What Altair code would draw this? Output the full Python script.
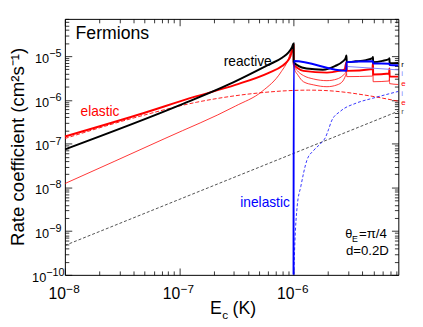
import altair as alt
import pandas as pd

# ---------------- values ----------------
# collision energy E_c (K) vs rate coefficient (cm^2 s^-1)

# reactive (thick black)
reactive_E = [1e-8, 1e-7, 3e-7, 6e-7, 8e-7, 9e-7, 9.7e-7, 1.0e-6,
              1.003e-6, 1.1e-6, 1.3e-6, 1.8e-6, 2.3e-6, 2.7e-6, 2.85e-6, 2.9e-6,
              2.92e-6, 3.5e-6, 4.3e-6, 4.9e-6, 4.95e-6,
              4.97e-6, 6.0e-6, 6.85e-6, 6.9e-6,
              6.92e-6, 8.25e-6]
reactive_k = [7.4e-8, 7.5e-7, 2.55e-6, 6.3e-6, 9.3e-6, 1.2e-5, 1.6e-5, 1.95e-5,
              7.3e-6, 6.0e-6, 5.2e-6, 4.9e-6, 5.9e-6, 7.6e-6, 8.9e-6, 1.03e-5,
              7.3e-6, 7.6e-6, 8.1e-6, 9.0e-6, 9.5e-6,
              7.3e-6, 7.8e-6, 8.6e-6, 9.0e-6,
              6.9e-6, 7.0e-6]

# elastic (thick red)
elastic_E = [1e-8, 4.3e-8, 1.4e-7, 3.1e-7, 6e-7, 8e-7, 8.7e-7, 9.4e-7, 9.8e-7, 1.0e-6,
             1.003e-6, 1.1e-6, 1.22e-6, 1.96e-6, 2.5e-6, 2.8e-6, 2.9e-6,
             2.92e-6, 4.9e-6, 4.95e-6,
             4.97e-6, 6.85e-6, 6.9e-6,
             6.92e-6, 8.25e-6]
elastic_k = [1.45e-7, 4.5e-7, 1.2e-6, 2.2e-6, 4.1e-6, 6.0e-6, 7.3e-6, 1.0e-5, 1.5e-5, 1.8e-5,
             6.6e-6, 5.2e-6, 4.6e-6, 4.2e-6, 4.6e-6, 5.0e-6, 7.3e-6,
             4.6e-6, 5.1e-6, 7.0e-6,
             3.8e-6, 4.0e-6, 5.2e-6,
             3.4e-6, 3.4e-6]

# elastic, partial contributions (thin red)
elastic_a_E = [1e-8, 7.5e-8, 3.1e-7, 5.3e-7, 7.8e-7, 9.0e-7, 9.6e-7, 1.0e-6,
               1.003e-6, 1.1e-6, 1.22e-6, 1.5e-6, 1.96e-6, 2.4e-6, 2.7e-6, 2.9e-6]
elastic_a_k = [1.22e-8, 1.31e-7, 7.2e-7, 1.56e-6, 4.4e-6, 8.5e-6, 1.44e-5, 1.7e-5,
               5.7e-6, 3.6e-6, 2.6e-6, 2.2e-6, 2.0e-6, 2.2e-6, 2.7e-6, 4.0e-6]

elastic_b_E = [1.0e-6, 1.003e-6, 1.1e-6, 1.22e-6, 1.5e-6, 1.96e-6, 2.4e-6, 2.7e-6, 2.85e-6, 2.9e-6,
               2.92e-6, 4.9e-6, 4.95e-6,
               4.97e-6, 6.85e-6, 6.9e-6,
               6.92e-6, 8.25e-6]
elastic_b_k = [1.7e-5, 6.2e-6, 4.4e-6, 3.6e-6, 3.0e-6, 2.75e-6, 3.0e-6, 3.6e-6, 4.2e-6, 5.7e-6,
               3.4e-6, 3.5e-6, 4.8e-6,
               2.6e-6, 2.7e-6, 3.4e-6,
               2.35e-6, 2.25e-6]

# elastic (thin red dashed)
elastic_d_E = [1e-8, 4.3e-8, 1.41e-7, 4.6e-7, 9.8e-7, 1.35e-6, 1.85e-6, 4.95e-6, 8.25e-6]
elastic_d_k = [1.31e-7, 4.07e-7, 8.8e-7, 1.41e-6, 1.64e-6, 1.67e-6, 1.64e-6, 1.2e-6, 9.3e-7]

# inelastic (thick blue) and second channel (thin light blue)
inelastic_E = [1.0e-6, 1.003e-6, 2.9e-6, 2.905e-6, 4.9e-6, 4.95e-6, 4.97e-6, 6.9e-6, 6.92e-6, 8.25e-6]
inelastic_k = [1e-10, 7.7e-6, 4.6e-6, 7.3e-6, 7.6e-6, 7.6e-6, 6.8e-6, 6.7e-6, 6.3e-6, 6.2e-6]

inelastic2_E = [2.92e-6, 4.95e-6, 8.25e-6]
inelastic2_k = [5.8e-6, 5.3e-6, 4.85e-6]

# inelastic (thin blue dashed)
inelastic_d_E = [1.005e-6, 1.028e-6, 1.076e-6, 1.157e-6, 1.31e-6, 1.5e-6, 1.76e-6, 1.9e-6,
                 2.02e-6, 2.15e-6, 2.57e-6, 3.52e-6, 4.92e-6, 8.25e-6]
inelastic_d_k = [1e-10, 5.8e-10, 3.7e-9, 1.04e-8, 4.2e-8, 7.0e-8, 1.06e-7, 1.38e-7,
                 2.08e-7, 3.3e-7, 5.5e-7, 8.4e-7, 1.09e-6, 1.56e-6]

# reactive (thin black dashed)
reactive_d_E = [1e-8, 8.25e-6]
reactive_d_k = [4.7e-10, 5.5e-7]

# letters at the right end of the curves
end_labels = ['r', 'i', 'e', 'i', 'e', 'r']
end_label_k = [6.3e-6, 3.95e-6, 2.35e-6, 1.36e-6, 8.5e-7, 5.4e-7]

# axes
x_ticks = [1e-8, 1e-7, 1e-6]
x_exps = ['\u22128', '\u22127', '\u22126']
y_ticks = [1e-10, 1e-9, 1e-8, 1e-7, 1e-6, 1e-5]
y_exps = ['\u221210', '\u22129', '\u22128', '\u22127', '\u22126', '\u22125']
x_minor = [float(f"{m}e{e}") for e in (-8, -7, -6) for m in range(2, 10) if float(f"{m}e{e}") < 8.25e-6]
y_minor = [float(f"{m}e{e}") for e in range(-10, -4) for m in range(2, 10) if float(f"{m}e{e}") < 7.1e-5]

# ---------------- chart ----------------
FONT = 'Liberation Sans'
W, H = 340, 261
xs = alt.Scale(type='log', domain=[1e-8, 8.25e-6], nice=False)
ys = alt.Scale(type='log', domain=[1e-10, 7.1e-5], nice=False)
RED, BLUE, LBLUE = '#ff0000', '#0000ff', '#8080ff'


def tick_axis(orient, values, size):
    return alt.Axis(orient=orient, values=values, tickSize=size, offset=-size,
                    labels=False, domain=False, grid=False, title=None,
                    tickColor='black', tickWidth=0.8)


def curve(E, k, color, width, dash=None, xaxis=None, yaxis=None):
    df = pd.DataFrame({'E': E, 'k': k, 'i': list(range(len(E)))})
    props = dict(color=color, strokeWidth=width, clip=True, interpolate='monotone')
    if dash is not None:
        props['strokeDash'] = dash
    return alt.Chart(df).mark_line(**props).encode(
        x=alt.X('E:Q', scale=xs, axis=xaxis),
        y=alt.Y('k:Q', scale=ys, axis=yaxis),
        order=alt.Order('i:Q'))


def note(text, E, k, size=13.5, color='black', dx=0, dy=0, align='left'):
    df = pd.DataFrame({'E': [E], 'k': [k]})
    return alt.Chart(df).mark_text(text=text, fontSize=size, color=color, dx=dx, dy=dy,
                                   align=align, baseline='alphabetic', font=FONT).encode(
        x=alt.X('E:Q', scale=xs, axis=None), y=alt.Y('k:Q', scale=ys, axis=None))


one = pd.DataFrame({'a': [0]})


def ptext(text, x, y, size, align='left', angle=0):
    return alt.Chart(one).mark_text(text=text, fontSize=size, align=align, angle=angle,
                                    baseline='alphabetic', color='black', font=FONT).encode(
        x=alt.value(x), y=alt.value(y))


layers = [
    curve(reactive_d_E, reactive_d_k, '#222222', 0.8, [3, 2],
          tick_axis('bottom', x_ticks, 7), tick_axis('left', y_ticks, 7)),
    curve(elastic_d_E, elastic_d_k, RED, 0.9, [4, 2],
          tick_axis('bottom', x_minor, 4), tick_axis('left', y_minor, 4)),
    curve(inelastic_d_E, inelastic_d_k, BLUE, 0.8, [3, 2],
          tick_axis('top', x_ticks, 7), tick_axis('right', y_ticks, 7)),
    curve(elastic_a_E, elastic_a_k, RED, 0.8, None,
          tick_axis('top', x_minor, 4), tick_axis('right', y_minor, 4)),
    curve(elastic_b_E, elastic_b_k, RED, 0.8),
    curve(elastic_E, elastic_k, RED, 2),
    curve(reactive_E, reactive_k, 'black', 2),
    curve(inelastic2_E, inelastic2_k, LBLUE, 1),
    curve(inelastic_E, inelastic_k, BLUE, 2),
]

# tick labels
xt = pd.DataFrame({'E': x_ticks, 'base': ['10'] * len(x_ticks), 'exp': x_exps})
layers.append(alt.Chart(xt).mark_text(align='right', baseline='alphabetic', fontSize=16, dx=1, font=FONT).encode(
    x=alt.X('E:Q', scale=xs, axis=None), y=alt.value(H + 25), text='base:N'))
layers.append(alt.Chart(xt).mark_text(align='left', baseline='alphabetic', fontSize=12, dx=1.5, font=FONT).encode(
    x=alt.X('E:Q', scale=xs, axis=None), y=alt.value(H + 18), text='exp:N'))

yt = pd.DataFrame({'k': y_ticks, 'base': ['10'] * len(y_ticks), 'exp': y_exps})
for flt, xpos in (('datum.k > 2e-10', -16), ('datum.k < 2e-10', -19)):
    layers.append(alt.Chart(yt).transform_filter(flt).mark_text(
        align='right', baseline='alphabetic', fontSize=13, dy=7, font=FONT).encode(
        x=alt.value(xpos), y=alt.Y('k:Q', scale=ys, axis=None), text='base:N'))
    layers.append(alt.Chart(yt).transform_filter(flt).mark_text(
        align='left', baseline='alphabetic', fontSize=11, dy=1, font=FONT).encode(
        x=alt.value(xpos), y=alt.Y('k:Q', scale=ys, axis=None), text='exp:N'))

# end-of-curve letters
end_colors = ['black', LBLUE, RED, LBLUE, RED, '#555555']
for lab, kv, col in zip(end_labels, end_label_k, end_colors):
    df = pd.DataFrame({'E': [8.25e-6], 'k': [kv]})
    layers.append(alt.Chart(df).mark_text(text=lab, fontSize=8, color=col, dx=3, align='left',
                                          baseline='middle', font=FONT).encode(
        x=alt.X('E:Q', scale=xs, axis=None), y=alt.Y('k:Q', scale=ys, axis=None)))

# annotations
layers += [
    note('Fermions', 1.24e-8, 2.4e-5, size=18),
    note('reactive', 2.45e-7, 5.97e-6, size=14),
    note('elastic', 1.37e-8, 4.28e-7, size=14, color=RED),
    note('inelastic', 3.42e-7, 3.52e-9, size=14, color=BLUE),
    note('\u03b8', 2.83e-6, 7.1e-10, size=13),
    note('E', 2.83e-6, 7.1e-10, size=9, dx=7, dy=4),
    note('=\u03c0/4', 2.83e-6, 7.1e-10, size=13.5, dx=14),
    note('d=0.2D', 2.87e-6, 2.85e-10, size=13.5),
]

# axis titles
layers += [
    ptext('Rate coefficient (cm\u00b2s\u207b\u00b9)', -42, H / 2, 19, align='center', angle=270),
    ptext('E', 160, H + 40, 18, align='right'),
    ptext('c', 160.5, H + 45.5, 12),
    ptext('(K)', 171, H + 40, 18),
]

chart = alt.layer(*layers).resolve_axis(x='independent', y='independent').properties(
    width=W, height=H,
    autosize=alt.AutoSizeParams(type='none'),
    padding={'left': 58, 'top': 8, 'right': 17, 'bottom': 47},
).configure_view(stroke='black', strokeWidth=1).configure_text(font=FONT)

chart.save('out.html', embed_options={'renderer': 'svg', 'actions': False})
